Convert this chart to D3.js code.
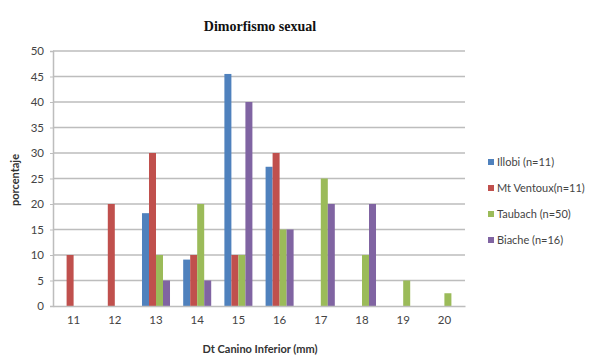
<!DOCTYPE html>
<html><head><meta charset="utf-8">
<script src="https://cdn.jsdelivr.net/npm/d3@7"></script>
<style>body{margin:0;background:#fff}</style>
</head><body>
<svg id="c" width="614" height="358"></svg>
<script>
const categories = ["11","12","13","14","15","16","17","18","19","20"];
const seriesNames = ["Illobi (n=11)","Mt Ventoux(n=11)","Taubach (n=50)","Biache (n=16)"];
const illobi    = [0, 0, 18.2, 9.1, 45.5, 27.3, 0, 0, 0, 0];
const mtVentoux = [10, 20, 30, 10, 10, 30, 0, 0, 0, 0];
const taubach   = [0, 0, 10, 20, 10, 15, 25, 10, 5, 2.5];
const biache    = [0, 0, 5, 5, 40, 15, 20, 20, 0, 0];
const yTicks = [0,5,10,15,20,25,30,35,40,45,50];
const colors = ["#4F81BD","#C0504D","#9BBB59","#8064A2"];

const seriesVals = [illobi, mtVentoux, taubach, biache];
const svg = d3.select("#c");
const m = {l:53, r:465, t:51, b:306};
const x = d3.scaleBand().domain(categories).range([m.l, m.r]).paddingInner(0).paddingOuter(0);
const y = d3.scaleLinear().domain([0,50]).range([m.b, m.t]);
const bw = x.bandwidth()*0.17;
const font = "Lato, 'Open Sans', sans-serif";

// gridlines
svg.append("g").selectAll("line").data(yTicks.filter(d=>d>0)).join("line")
  .attr("x1", m.l).attr("x2", m.r).attr("y1", d=>y(d)).attr("y2", d=>y(d))
  .attr("stroke","#bdbdbd").attr("stroke-width",1.5);

// y axis
const ya = svg.append("g").attr("transform",`translate(${m.l},0)`)
  .call(d3.axisLeft(y).tickValues(yTicks).tickSize(3).tickPadding(6));
ya.select(".domain").attr("stroke","#bdbdbd").attr("stroke-width",1.5);
ya.selectAll(".tick line").attr("stroke","#bdbdbd");
ya.selectAll("text").attr("font-family",font).attr("font-size",11.5).attr("fill","#444");

// bars
seriesVals.forEach((vals,si)=>{
  svg.append("g").selectAll("rect").data(categories.map((c,i)=>({c,v:vals[i]})).filter(d=>d.v>0)).join("rect")
    .attr("x", d=> x(d.c)+x.bandwidth()/2 - 2*bw + si*bw)
    .attr("width", bw)
    .attr("y", d=>y(d.v))
    .attr("height", d=> y(0)-y(d.v))
    .attr("fill", colors[si]);
});

// x axis
const xa = svg.append("g").attr("transform",`translate(0,${m.b})`)
  .call(d3.axisBottom(x).tickSize(0).tickPadding(10));
xa.select(".domain").attr("stroke","#bdbdbd").attr("stroke-width",1.5);
xa.selectAll("text").attr("font-family",font).attr("font-size",11.5).attr("fill","#444");

// title
svg.append("text").attr("x",260).attr("y",31).attr("text-anchor","middle")
  .attr("font-family","'Liberation Serif', serif").attr("font-weight","bold").attr("font-size",14)
  .attr("fill","#111").text("Dimorfismo sexual");

// axis titles
svg.append("text").attr("x",260).attr("y",353).attr("text-anchor","middle")
  .attr("font-family",font).attr("font-weight","bold").attr("font-size",11).attr("fill","#333")
  .text("Dt Canino Inferior (mm)");
svg.append("text").attr("transform","translate(19,180) rotate(-90)").attr("text-anchor","middle")
  .attr("font-family",font).attr("font-weight","bold").attr("font-size",11).attr("fill","#333")
  .text("porcentaje");

// legend
const lg = svg.append("g").attr("transform","translate(488,162)");
seriesNames.forEach((n,i)=>{
  const g = lg.append("g").attr("transform",`translate(0,${i*26})`);
  g.append("rect").attr("x",0).attr("y",-3).attr("width",6).attr("height",6).attr("fill",colors[i]);
  g.append("text").attr("x",9).attr("y",4).attr("font-family",font).attr("font-size",11).attr("fill","#444").text(n);
});
</script>
</body></html>
